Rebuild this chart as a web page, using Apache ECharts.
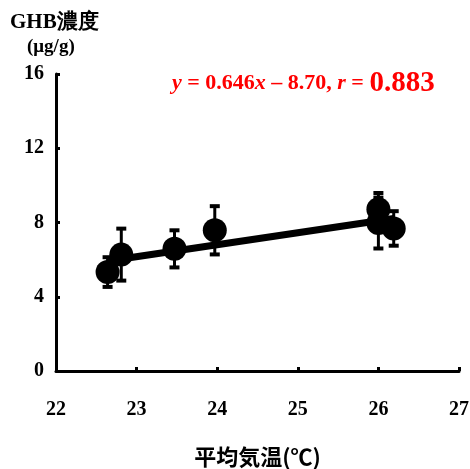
<!DOCTYPE html>
<html>
<head>
<meta charset="utf-8">
<script src="https://cdn.jsdelivr.net/npm/echarts@6/dist/echarts.min.js"></script>
<style>
  html, body { margin: 0; padding: 0; background: #fff; }
  #chart { width: 470px; height: 469px; }
</style>
</head>
<body>
<div id="chart"></div>
<script>
// Mean air temperature (°C) at each site
const tempC = [22.64, 22.81, 23.47, 23.97, 26.0, 26.0, 26.19];
// Mean GHB concentration (µg/g)
const ghbMean = [5.33, 6.27, 6.58, 7.58, 8.72, 7.97, 7.68];
// Error (± value)
const ghbErr = [0.8, 1.4, 1.0, 1.3, 0.87, 1.37, 0.93];

// Regression y = slope * x + intercept, correlation r
const slope = 0.646;
const intercept = -8.70;
const corrR = 0.883;

const xTicks = [22, 23, 24, 25, 26, 27];
const yTicks = [0, 4, 8, 12, 16];

const serif = '"Liberation Serif", "Times New Roman", serif';
const gothic = '"Noto Sans CJK JP", sans-serif';

const points = tempC.map((x, i) => [x, ghbMean[i]]);
const errData = tempC.map((x, i) => [x, ghbMean[i] - ghbErr[i], ghbMean[i] + ghbErr[i]]);
const xLo = Math.min(...tempC);
const xHi = Math.max(...tempC);
const fitLine = [[xLo, slope * xLo + intercept], [xHi, slope * xHi + intercept]];

const eqText = '{i|y} = ' + slope.toFixed(3) + '{i|x} \u2013 ' + Math.abs(intercept).toFixed(2) +
  ', {i|r} = {big|' + corrR.toFixed(3) + '}';

const chart = echarts.init(document.getElementById('chart'), null, { renderer: 'canvas' });

chart.setOption({
  backgroundColor: '#fff',
  animation: false,
  title: [
    {
      text: 'GHB濃度',
      left: 5, top: 7,
      textStyle: { fontFamily: serif, fontWeight: 'bold', fontSize: 21, color: '#000' }
    },
    {
      text: '(\u03bcg/g)',
      left: 22, top: 33,
      textStyle: { fontFamily: serif, fontWeight: 'bold', fontSize: 19, color: '#000' }
    },
    {
      text: eqText,
      left: 167, top: 64,
      textStyle: {
        fontFamily: serif, fontWeight: 'bold', fontSize: 22, color: '#f00',
        rich: {
          i: { fontFamily: serif, fontWeight: 'bold', fontStyle: 'italic', fontSize: 22, color: '#f00' },
          big: { fontFamily: serif, fontWeight: 'bold', fontSize: 29, color: '#f00' }
        }
      }
    }
  ],
  grid: { left: 56, right: 11, top: 74, bottom: 98, containLabel: false, outerBoundsMode: 'none' },
  xAxis: {
    type: 'value',
    min: xTicks[0], max: xTicks[xTicks.length - 1], interval: 1,
    name: '平均気温(℃)',
    nameLocation: 'middle',
    nameGap: 75,
    nameTextStyle: { fontFamily: gothic, fontWeight: 'bold', fontSize: 22, color: '#000' },
    axisLine: { lineStyle: { color: '#000', width: 3 } },
    axisTick: { inside: true, length: 4, lineStyle: { color: '#000', width: 3 } },
    axisLabel: { margin: 29, fontFamily: serif, fontWeight: 'bold', fontSize: 20, color: '#000' },
    splitLine: { show: false }
  },
  yAxis: {
    type: 'value',
    min: yTicks[0], max: yTicks[yTicks.length - 1], interval: 4,
    axisLine: { show: true, lineStyle: { color: '#000', width: 3 } },
    axisTick: { show: true, inside: true, length: 4, lineStyle: { color: '#000', width: 3 } },
    axisLabel: { margin: 12, padding: [5, 0, 0, 0], fontFamily: serif, fontWeight: 'bold', fontSize: 20, color: '#000' },
    splitLine: { show: false }
  },
  series: [
    {
      type: 'line',
      data: fitLine,
      symbol: 'none',
      lineStyle: { color: '#000', width: 7 },
      z: 1,
      silent: true
    },
    {
      type: 'custom',
      data: errData,
      z: 2,
      renderItem: function (params, api) {
        const x = api.value(0);
        const lo = api.coord([x, api.value(1)]);
        const hi = api.coord([x, api.value(2)]);
        const half = 5;
        const st = { stroke: '#000', lineWidth: 3 };
        const cap = { stroke: '#000', lineWidth: 4 };
        return {
          type: 'group',
          children: [
            { type: 'line', shape: { x1: lo[0], y1: lo[1], x2: hi[0], y2: hi[1] }, style: st },
            { type: 'line', shape: { x1: lo[0] - half, y1: lo[1], x2: lo[0] + half, y2: lo[1] }, style: cap },
            { type: 'line', shape: { x1: hi[0] - half, y1: hi[1], x2: hi[0] + half, y2: hi[1] }, style: cap }
          ]
        };
      }
    },
    {
      type: 'scatter',
      data: points,
      symbol: 'circle',
      symbolSize: 24,
      itemStyle: { color: '#000', opacity: 1 },
      z: 3
    }
  ]
});
</script>
</body>
</html>
